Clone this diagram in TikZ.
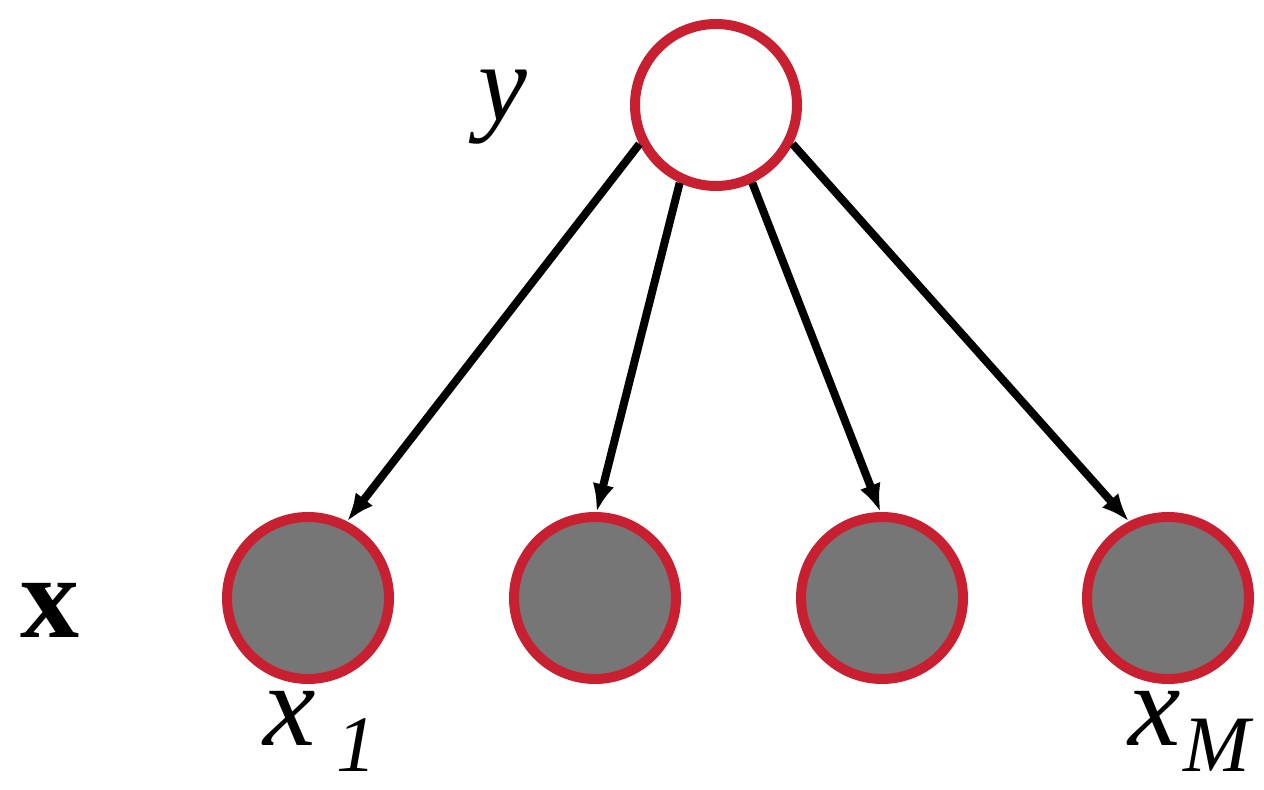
\documentclass[tikz,border=0pt]{standalone}
\usepackage{fontspec}
\setmainfont{Liberation Serif}
\usetikzlibrary{arrows.meta}
\definecolor{nodered}{RGB}{200,32,48}
\definecolor{obsgray}{RGB}{118,118,118}
\begin{document}
\begin{tikzpicture}[x=0.25pt,y=-0.25pt,
  latent/.style={circle,draw=nodered,line width=2.5pt,fill=white,minimum size=40.5pt,inner sep=0pt},
  observed/.style={circle,draw=nodered,line width=2.5pt,fill=obsgray,minimum size=40.5pt,inner sep=0pt},
  edge/.style={line width=2pt,-{Latex[length=7pt,width=5.5pt]}},
  lbl/.style={font=\fontsize{27.5}{30}\selectfont,inner sep=0pt},
  biglbl/.style={font=\fontsize{29.5}{32}\selectfont,inner sep=0pt}]
\useasboundingbox (0,0) rectangle (1264,790);
\node[latent] (y) at (716,105) {};
\node[observed] (x1) at (308,598) {};
\node[observed] (x2) at (595,598) {};
\node[observed] (x3) at (882,598) {};
\node[observed] (xM) at (1168,598) {};
\draw[edge] (y.207) -- (x1.63);
\draw[edge] (y.245) -- (x2.89);
\draw[edge] (y.295) -- (x3.91);
\draw[edge] (y.333) -- (xM.117);
\node[lbl] (ylab) at (503,107) {\textit{y}};
\node[biglbl] (xlab) at (50,610) {\textbf{x}};
\node[biglbl,anchor=base west] (x1lab) at (263,745) {\textit{x}\hspace{5pt}\raisebox{-6.5pt}{\fontsize{20}{22}\selectfont\textit{1}}};
\node[biglbl,anchor=base west] (xMlab) at (1128,745) {\textit{x}\hspace{0.5pt}\raisebox{-6.5pt}{\fontsize{20}{22}\selectfont\textit{M}}};
\end{tikzpicture}
\end{document}
